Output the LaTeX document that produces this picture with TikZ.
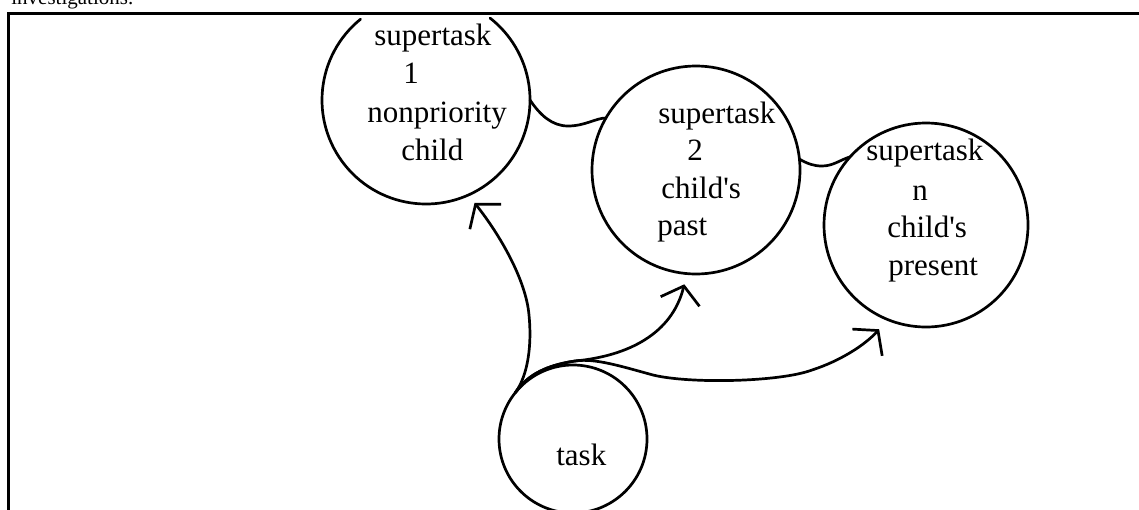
\documentclass[tikz,border=0pt]{standalone}
\usepackage{fontspec}
\setmainfont{Liberation Serif}
\usetikzlibrary{arrows.meta}
\begin{document}
\begin{tikzpicture}[x=0.5pt,y=-0.5pt,
  line width=1.35pt,
  bubble/.style={circle,inner sep=0pt,outer sep=0pt,minimum size=#1},
  lbl/.style={anchor=base west,inner sep=0pt,font=\fontsize{15.5}{18}\selectfont},
  arr/.style={-{Straight Barb[length=8pt,width=20pt]},shorten >=#1},
  line cap=round]
\useasboundingbox (0,0) rectangle (1139,509);
\clip (0,0) rectangle (1139,509);

% running text above the box and the box itself
\node[anchor=base west,inner sep=0pt,font=\fontsize{10.5}{12}\selectfont] (intro) at (10,4) {investigations.};
\draw[line width=1.5pt] (1150,13) -- (8,13) -- (8,520);

% task bubbles
\node[bubble=104pt] (c1) at (426,100) {};
\draw (c1.129) arc[start angle=129,end angle=412,radius=52pt];
\node[bubble=104pt,draw] (c2) at (696,170) {};
\node[bubble=102pt,draw] (c3) at (926,225) {};
\node[bubble=74pt,draw] (t) at (573,439) {};

% labels
\node[lbl] (s1a) at (373,45) {supertask};
\node[lbl] (s1b) at (402,83) {1};
\node[lbl] (s1c) at (366,122) {nonpriority};
\node[lbl] (s1d) at (400,160) {child};
\node[lbl] (s2a) at (657,123) {supertask};
\node[lbl] (s2b) at (686,160) {2};
\node[lbl] (s2c) at (660,198) {child\textquotesingle s};
\node[lbl] (s2d) at (656,235) {past};
\node[lbl] (s3a) at (865,160) {supertask};
\node[lbl] (s3b) at (911,200) {n};
\node[lbl] (s3c) at (886,237) {child\textquotesingle s};
\node[lbl] (s3d) at (887,275) {present};
\node[lbl] (tl) at (555,465) {task};

% links between the supertasks
\draw (c1.0) .. controls (540,115) and (552,126) .. (568,126)
             .. controls (585,126) and (596,118) .. (c2.150);
\draw (c2.6) .. controls (808,164) and (814,166) .. (822,166)
             .. controls (833,166) and (840,160) .. (c3.138);

% arrows from the task
\draw[arr=5pt] (t.141) .. controls (528,375) and (532,345) .. (529,315)
             .. controls (526,280) and (500,235) .. (c1.-66);
\draw[arr=5.5pt] (t.141) .. controls (528,374) and (548,365) .. (575,361)
             .. controls (628,356) and (672,334) .. (c2.-95);
\draw[arr=6.5pt] (t.141) .. controls (528,374) and (548,365) .. (575,361)
             .. controls (595,358) and (620,366) .. (653,375)
             .. controls (690,384) and (780,382) .. (812,370)
             .. controls (840,361) and (865,345) .. (c3.-112);
\end{tikzpicture}
\end{document}
